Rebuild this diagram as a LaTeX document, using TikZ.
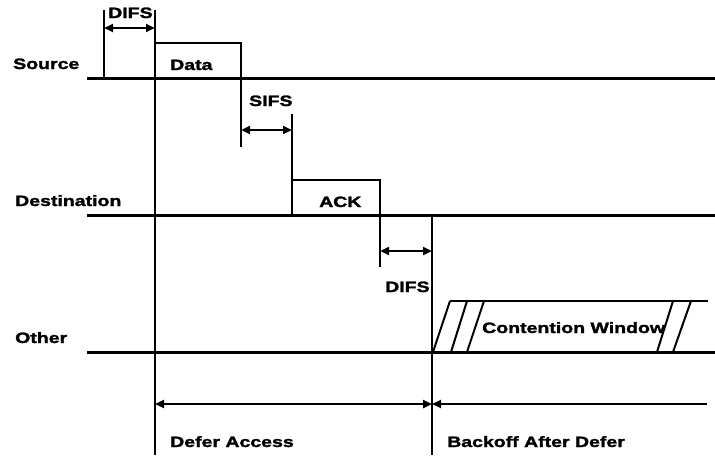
\documentclass[tikz,border=0pt]{standalone}
\usepackage{fontspec}
\newfontfamily\lblfont[UprightFont={* Bold}, FakeStretch=1.3, FakeBold=1.8]{Liberation Sans}
\usetikzlibrary{arrows.meta}

\begin{document}
\begin{tikzpicture}[
  x=1pt, y=-1pt,
  >={Triangle[length=9pt,width=8pt]},
  lbl/.style={anchor=base west, inner sep=0pt,
              font=\lblfont\fontsize{15}{17}\selectfont},
  wire/.style={draw, line width=3pt},
  tick/.style={draw, line width=2.6pt},
  span/.style={draw, line width=2.6pt, <->}
]
\useasboundingbox (0,0) rectangle (715,458);

% time marks and rows
\coordinate (srcL) at (87,78);   \coordinate (srcR) at (715,78);
\coordinate (dstL) at (87,215);  \coordinate (dstR) at (715,215);
\coordinate (othL) at (87,352);  \coordinate (othR) at (715,352);

% row labels
\node[lbl] (source) at (13,69) {Source};
\node[lbl] (dest) at (15,206) {Destination};
\node[lbl] (other) at (15,343) {Other};

\path[wire] (srcL) -- (srcR);
\path[wire] (dstL) -- (dstR);
\path[wire] (othL) -- (othR);

% DIFS before data
\coordinate (d1top) at (104,10);  \coordinate (d1bot) at (104,78);
\coordinate (d2top) at (155,10);  \coordinate (d2bot) at (155,455);
\path[tick] (d1top) -- (d1bot);
\path[tick] (d2top) -- (d2bot);
\coordinate (d1a) at (104,28);  \coordinate (d2a) at (155,28);
\path[span] (d1a) -- (d2a);
\node[lbl] (difsA) at (108,18) {DIFS};

% data frame
\coordinate (dataTL) at (155,43);
\coordinate (dataTR) at (241,43);
\coordinate (dataEnd) at (241,147);
\path[tick] (dataTL) -- (dataTR) -- (dataEnd);
\node[lbl] (data) at (170,70) {Data};

% SIFS
\coordinate (s1) at (241,130);  \coordinate (s2) at (292,130);
\path[span] (s1) -- (s2);
\node[lbl] (sifs) at (249,106) {SIFS};

% ACK frame
\coordinate (ackTop) at (292,114);
\coordinate (ackTL) at (292,180);
\coordinate (ackTR) at (380,180);
\coordinate (ackEnd) at (380,267);
\path[tick] (ackTop) -- (292,215);
\path[tick] (ackTL) -- (ackTR) -- (ackEnd);
\node[lbl] (ack) at (319,207) {ACK};

% DIFS after ACK
\coordinate (d3top) at (432,215);  \coordinate (d3bot) at (432,455);
\path[tick] (d3top) -- (d3bot);
\coordinate (d3a) at (380,251);  \coordinate (d4a) at (432,251);
\path[span] (d3a) -- (d4a);
\node[lbl] (difsB) at (385,292) {DIFS};

% contention window
\coordinate (cwL) at (450,301);  \coordinate (cwR) at (708,301);
\path[draw, line width=2pt] (cwL) -- (cwR);
\foreach \xb/\xt in {433/450, 451/467, 467/484, 657/673, 673/691}
  \path[draw, line width=2pt] (\xb,352) -- (\xt,301);
\node[lbl] (cw) at (482,333) {Contention Window};

% defer and backoff
\coordinate (deferL) at (155,404);  \coordinate (deferR) at (432,404);
\coordinate (boffR) at (707,404);
\path[span] (deferL) -- (deferR);
\path[draw, line width=2.6pt, ->] (boffR) -- (deferR);
\node[lbl] (defer) at (170,447) {Defer Access};
\node[lbl] (backoff) at (447,447) {Backoff After Defer};
\end{tikzpicture}
\end{document}
